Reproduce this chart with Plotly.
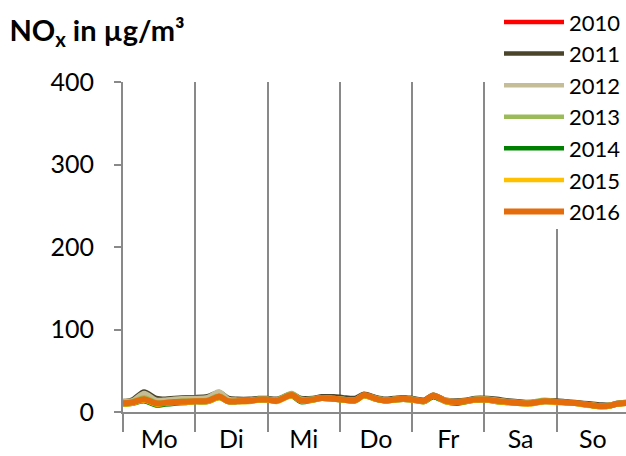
import plotly.graph_objects as go

# hours since Monday 00:00 (one week, hourly means)
hours = [0, 3, 7, 11, 14, 17, 21, 24, 28, 32, 35, 38, 42, 45, 48, 51, 56, 59,
         63, 66, 70, 73, 77, 80, 84, 87, 90, 93, 96, 100, 103, 107, 111, 114,
         117, 121, 124, 128, 131, 135, 140, 144, 147, 150, 153, 156, 159, 162,
         164, 167]

nox_2010 = [11, 12, 16, 11, 11.5, 12.5, 13, 13.5, 14, 19, 13.5, 13.5, 14, 15.5,
            15, 14, 20.5, 14.5, 15.5, 17, 16, 15.5, 14.5, 20.5, 16, 14.5, 15, 16,
            15, 14, 20, 14, 12.5, 14, 15, 15, 14, 12.5, 11.5, 11, 13, 12.5, 12,
            11, 10, 8.5, 7.5, 8.5, 10, 11]
nox_2011 = [13, 15, 25, 17, 16, 17, 18, 18, 19, 24, 17, 16, 16, 17, 17, 16, 22,
            17, 17, 19, 19, 18, 17, 22, 18, 16, 17, 18, 17, 15, 21, 15, 14, 15,
            17, 17, 16, 14, 13, 12, 14, 14, 13, 12, 11, 10, 9, 9, 11, 12]
nox_2012 = [14, 14, 23, 15, 15, 16, 17, 17, 18, 25, 16, 15, 15, 16, 16, 15, 21,
            16, 16, 18, 17, 16, 15, 21, 17, 15, 16, 17, 16, 14, 20, 15, 13, 14,
            16, 16, 15, 13, 12, 11, 13, 13, 12, 11, 10, 9, 8, 9, 10, 11]
nox_2013 = [12, 13, 18, 12, 12, 13, 14, 14, 15, 20, 14, 14, 14, 16, 16, 15, 23,
            16, 16, 18, 17, 16, 15, 21, 17, 15, 16, 17, 16, 14, 21, 14, 13, 14,
            16, 16, 14, 13, 12, 12, 15, 13, 12, 11, 10, 9, 8, 9, 11, 12]
nox_2014 = [9, 10, 13, 8, 9, 10, 11, 12, 12, 17, 12, 12, 13, 14, 14, 13, 19,
            12, 14, 16, 15, 14, 13, 19, 15, 13, 14, 15, 14, 12, 18, 12, 10, 12,
            14, 14, 12, 11, 10, 10, 12, 12, 11, 10, 9, 7, 6, 7, 9, 10]
nox_2015 = [9, 10, 14, 9, 10, 11, 11, 12, 12, 17, 12, 12, 12, 14, 14, 12, 19,
            13, 14, 16, 15, 14, 13, 19, 15, 13, 14, 15, 14, 12, 19, 12, 11, 12,
            14, 14, 12, 11, 10, 9, 12, 11, 10, 10, 8, 7, 6, 7, 9, 10]
nox_2016 = [10.5, 11.5, 15.5, 10.5, 11, 12, 12.5, 13, 13.5, 18.5, 13, 13, 13.5,
            15, 15, 13.5, 20.5, 14, 15, 17, 16, 15, 14, 20.5, 16, 14, 15, 16, 15,
            13.5, 20, 13.5, 12, 13.5, 15, 15, 13.5, 12, 11, 10.5, 13, 12.5, 11.5,
            11, 9.5, 8, 7, 8, 10, 11]

years = ["2010", "2011", "2012", "2013", "2014", "2015", "2016"]
series = [nox_2010, nox_2011, nox_2012, nox_2013, nox_2014, nox_2015, nox_2016]
colors = ["#FF0000", "#4A452A", "#C4BD97", "#9BBB59", "#008000", "#FFC000", "#E46C0A"]
widths = [4.5, 4.5, 4.5, 4.5, 4.5, 4.5, 6]

days = ["Mo", "Di", "Mi", "Do", "Fr", "Sa", "So"]
day_centers = [12, 36, 60, 84, 108, 132, 156]

grey = "#898989"
font = "Lato, Carlito, Calibri, sans-serif"

fig = go.Figure()
for year, vals, col, w in zip(years, series, colors, widths):
    fig.add_trace(go.Scatter(
        x=hours, y=vals, name=year, mode="lines",
        line=dict(color=col, width=w, shape="spline", smoothing=0.8),
    ))

fig.update_layout(
    width=626, height=456,
    margin=dict(l=123, r=0, t=82, b=44, autoexpand=False),
    paper_bgcolor="white", plot_bgcolor="white",
    font=dict(family=font, color="black", size=25),
    title=dict(text="<b>NO<sub>x</sub> in µg/m³</b>", x=0.015, xanchor="left",
               y=0.932, yanchor="middle", font=dict(size=29, family=font)),
    legend=dict(x=1.0, xanchor="right", y=1.245, yanchor="top",
                bgcolor="white", font=dict(size=22, family=font),
                itemwidth=60),
    showlegend=True,
)

fig.update_xaxes(
    range=[0, 167],
    tickvals=day_centers, ticktext=days, ticks="",
    showline=True, linecolor=grey, linewidth=2,
    showgrid=False, zeroline=False,
    ticklabelstandoff=4,
    minor=dict(tick0=0, dtick=24, ticks="outside", ticklen=18, tickwidth=2,
               tickcolor=grey, showgrid=True, gridcolor=grey, gridwidth=2),
)
fig.update_yaxes(
    range=[0, 400], tickvals=[0, 100, 200, 300, 400],
    ticks="outside", ticklen=7, tickwidth=2, tickcolor=grey,
    showline=True, linecolor=grey, linewidth=2,
    showgrid=False, zeroline=False, ticklabelstandoff=15,
)

# page has a default 8px body margin; drop it so the figure sits at 0,0
fig.write_html("out.html", config={"displayModeBar": False},
               post_script="document.body.style.margin='0';")
